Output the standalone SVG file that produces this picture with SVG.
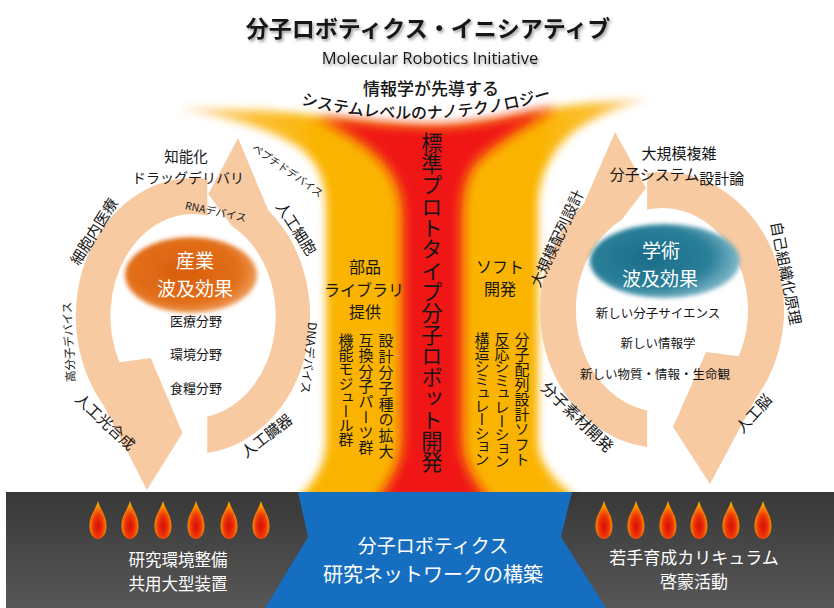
<svg xmlns="http://www.w3.org/2000/svg" width="834" height="608" viewBox="0 0 834 608">
  <defs>
    <style>
      text { font-family: "Noto Sans CJK JP", "Liberation Sans", sans-serif; fill: #151515; }
      .c { text-anchor: middle; dominant-baseline: central; }
      .arrow { fill: #f8caa2; }
      .w { fill: #ffffff; }
      .vt { writing-mode: vertical-rl; font-size: 15px; }
      .s10 { font-size: 10.5px; }
      .s12 { font-size: 12px; }
      .s13 { font-size: 13px; }
      .s15 { font-size: 15px; }
      .s16 { font-size: 16px; }
    </style>
    <filter id="soft4" x="-20%" y="-20%" width="140%" height="140%"><feGaussianBlur stdDeviation="4"/></filter>
    <filter id="soft6" x="-30%" y="-20%" width="160%" height="140%"><feGaussianBlur stdDeviation="6"/></filter>
    <filter id="soft2" x="-10%" y="-20%" width="120%" height="140%"><feGaussianBlur stdDeviation="2"/></filter>
    <filter id="shadow" x="-5%" y="-30%" width="110%" height="170%">
      <feDropShadow dx="1.5" dy="2" stdDeviation="1.5" flood-color="#555" flood-opacity="0.6"/>
    </filter>
    <linearGradient id="yellowFill" gradientUnits="userSpaceOnUse" x1="176" y1="0" x2="652" y2="0">
      <stop offset="0" stop-color="#fde2c2"/>
      <stop offset="0.17" stop-color="#fcbf36"/>
      <stop offset="0.3" stop-color="#fab400"/>
      <stop offset="0.76" stop-color="#fab400"/>
      <stop offset="0.88" stop-color="#fcbf36"/>
      <stop offset="1" stop-color="#fde2c2"/>
    </linearGradient>
    <linearGradient id="baseFill" x1="0" y1="0" x2="0" y2="1">
      <stop offset="0" stop-color="#383838"/>
      <stop offset="1" stop-color="#575757"/>
    </linearGradient>
    <radialGradient id="orangeFill" cx="0.45" cy="0.45" r="0.6">
      <stop offset="0" stop-color="#d95e0c"/>
      <stop offset="0.7" stop-color="#e26f1a"/>
      <stop offset="1" stop-color="#f2a666"/>
    </radialGradient>
    <radialGradient id="tealFill" cx="0.4" cy="0.45" r="0.62">
      <stop offset="0" stop-color="#1b6c88"/>
      <stop offset="0.65" stop-color="#2a8099"/>
      <stop offset="1" stop-color="#86bccc"/>
    </radialGradient>
    <radialGradient id="flameFill" cx="0.5" cy="0.66" r="0.62">
      <stop offset="0" stop-color="#d60f08"/>
      <stop offset="0.45" stop-color="#ec3406"/>
      <stop offset="0.8" stop-color="#fa8a00"/>
      <stop offset="1" stop-color="#fdb600"/>
    </radialGradient>
    <path id="flame" d="M0,-20 C2,-12 8.5,-6 8.5,5 C8.5,13 4.5,18 0,18 C-4.5,18 -8.5,13 -8.5,5 C-8.5,-6 -2,-12 0,-20 Z" fill="url(#flameFill)"/>
    <!-- one cycle of two curved arrows, drawn around (662,310) -->
    <g id="cycle">
      <path class="arrow" d="M647.1,447 A122,138 0 0 1 583.6,204.3 L615,132 L646,188 L621.6,219.9 A86,102 0 0 0 647.1,410.5 Z"/>
      <path class="arrow" d="M647.1,173 A122,138 0 0 1 755.5,398.7 L710,484 L673,427 L706,352 L738.6,356.3 A86,102 0 0 0 647.1,209.5 Z"/>
    </g>
    <path id="arcText" d="M296,103 Q425,137 556,97"/>
  </defs>

  <rect width="834" height="608" fill="#ffffff"/>

  <!-- central funnel: yellow body and red core -->
  <g id="funnel">
    <path filter="url(#soft4)" fill="url(#yellowFill)" d="M176,108 C240,108 280,111 310,115 C360,121 400,126 432,126 C480,126 525,113 560,107 C590,102 620,100 652,99 C625,104 590,118 570,135 C548,155 538,180 538,210 L538,440 C538,465 556,482 582,502 L294,502 C315,482 326,465 326,440 L326,210 C326,180 318,162 300,148 C275,130 230,118 176,108 Z"/>
    <path filter="url(#soft6)" fill="#f01414" d="M316,117 C360,122 400,126 432,126 C480,126 520,114 556,107 C530,125 480,150 470,172 C463,188 462,200 462,215 L462,440 C462,462 474,482 490,502 L376,502 C390,482 402,462 402,440 L402,215 C402,198 398,185 390,172 C375,148 345,131 316,117 Z"/>
  </g>

  <!-- circular arrows of both cycles -->
  <g id="cycle-arrows">
    <use href="#cycle"/>
    <use href="#cycle" transform="matrix(-0.96 0 0 1 828.5 6)"/>
  </g>

  <g id="title">
    <text class="c" x="428" y="27" font-size="23" font-weight="bold" filter="url(#shadow)">分子ロボティクス・イニシアティブ</text>
    <text class="c" x="430" y="57" font-size="16.5" filter="url(#shadow)" style="font-family:'Open Sans','Liberation Sans',sans-serif">Molecular Robotics Initiative</text>
    <text class="c" x="431" y="87" font-size="17" font-weight="500">情報学が先導する</text>
    <text font-size="16" font-weight="500"><textPath href="#arcText" startOffset="50%" text-anchor="middle">システムレベルのナノテクノロジー</textPath></text>
  </g>

  <g id="prototype-core">
    <text class="vt" x="432" y="132" textLength="341" style="font-size:21.3px">標準プロトタイプ分子ロボット開発</text>
  </g>

  <g id="parts-library">
    <text class="c s16" x="365" y="266">部品</text>
    <text class="c s16" x="364" y="289">ライブラリ</text>
    <text class="c s16" x="365" y="311">提供</text>
    <text class="vt" x="386" y="333" textLength="126">設計分子種の拡大</text>
    <text class="vt" x="366" y="333" textLength="122">互換分子パーツ群</text>
    <text class="vt" x="346" y="333" textLength="114">機能モジュール群</text>
  </g>

  <g id="software">
    <text class="c s16" x="500" y="266">ソフト</text>
    <text class="c s16" x="500" y="288">開発</text>
    <text class="vt" x="522" y="332" textLength="135">分子配列設計ソフト</text>
    <text class="vt" x="502" y="332" textLength="137">反応シミュレーション</text>
    <text class="vt" x="482" y="332" textLength="135">構造シミュレーション</text>
  </g>

  <g id="industry">
    <ellipse cx="191" cy="275" rx="66" ry="38" fill="url(#orangeFill)" filter="url(#soft2)"/>
    <text class="c w" x="195" y="259" font-size="19">産業</text>
    <text class="c w" x="195" y="287" font-size="19">波及効果</text>
    <text class="c s13" x="196" y="320">医療分野</text>
    <text class="c s13" x="196" y="353">環境分野</text>
    <text class="c s13" x="196" y="387">食糧分野</text>
    <text class="c" x="186" y="155" font-size="14.5">知能化</text>
    <text class="c" x="188" y="177" font-size="14">ドラッグデリバリ</text>
    <text class="c s10" transform="translate(288,170) rotate(35)">ペプチドデバイス</text>
    <text class="c s10" transform="translate(216,211) rotate(12)">RNAデバイス</text>
    <text class="c s15" transform="translate(297,228) rotate(57)">人工細胞</text>
    <text class="c s15" transform="translate(93,231) rotate(-58)">細胞内医療</text>
    <text class="c" font-size="11.5" transform="translate(68,342) rotate(-93)">高分子デバイス</text>
    <text class="c s15" transform="translate(106,421) rotate(43)">人工光合成</text>
    <text class="c s12" transform="translate(310,358) rotate(96)">DNAデバイス</text>
    <text class="c s15" transform="translate(266,435) rotate(-38)">人工臓器</text>
  </g>

  <g id="academic">
    <ellipse cx="665" cy="261" rx="75" ry="37" fill="url(#tealFill)" filter="url(#soft2)"/>
    <text class="c w" x="661" y="249" font-size="19">学術</text>
    <text class="c w" x="660" y="277" font-size="19">波及効果</text>
    <text class="c" x="658" y="312" font-size="12.5">新しい分子サイエンス</text>
    <text class="c" x="658" y="342" font-size="12.5">新しい情報学</text>
    <text class="c" x="655" y="373" font-size="12.5">新しい物質・情報・生命観</text>
    <text class="c s15" x="679" y="152">大規模複雑</text>
    <text class="c s15" x="677" y="173">分子システム<tspan dy="4">設計論</tspan></text>
    <text class="c s15" transform="translate(556,238) rotate(-65)">大規模配列設計</text>
    <text class="c s15" transform="translate(787,273) rotate(79)">自己組織化原理</text>
    <text class="c" font-size="15.5" transform="translate(578,416) rotate(44)">分子素材開発</text>
    <text class="c s15" transform="translate(753,413) rotate(-48)">人工脳</text>
  </g>

  <g id="base">
    <rect x="6" y="492" width="828" height="116" fill="url(#baseFill)"/>
    <polygon points="298,492 572,492 561,537 606,608 265,608 308,537" fill="#166ec0"/>
    <g id="flames-left">
      <use href="#flame" x="98" y="521"/>
      <use href="#flame" x="130" y="521"/>
      <use href="#flame" x="163" y="521"/>
      <use href="#flame" x="196" y="521"/>
      <use href="#flame" x="229" y="521"/>
      <use href="#flame" x="261" y="521"/>
    </g>
    <g id="flames-right">
      <use href="#flame" x="604" y="521"/>
      <use href="#flame" x="636" y="521"/>
      <use href="#flame" x="668" y="521"/>
      <use href="#flame" x="699" y="521"/>
      <use href="#flame" x="731" y="521"/>
      <use href="#flame" x="763" y="521"/>
    </g>
    <text class="c w" x="178" y="559" font-size="16.5">研究環境整備</text>
    <text class="c w" x="178" y="583" font-size="16.5">共用大型装置</text>
    <text class="c w" x="433" y="544" font-size="19">分子ロボティクス</text>
    <text class="c w" x="433" y="573" font-size="20">研究ネットワークの構築</text>
    <text class="c w" x="694" y="556" font-size="17">若手育成カリキュラム</text>
    <text class="c w" x="694" y="580" font-size="17">啓蒙活動</text>
  </g>
</svg>
